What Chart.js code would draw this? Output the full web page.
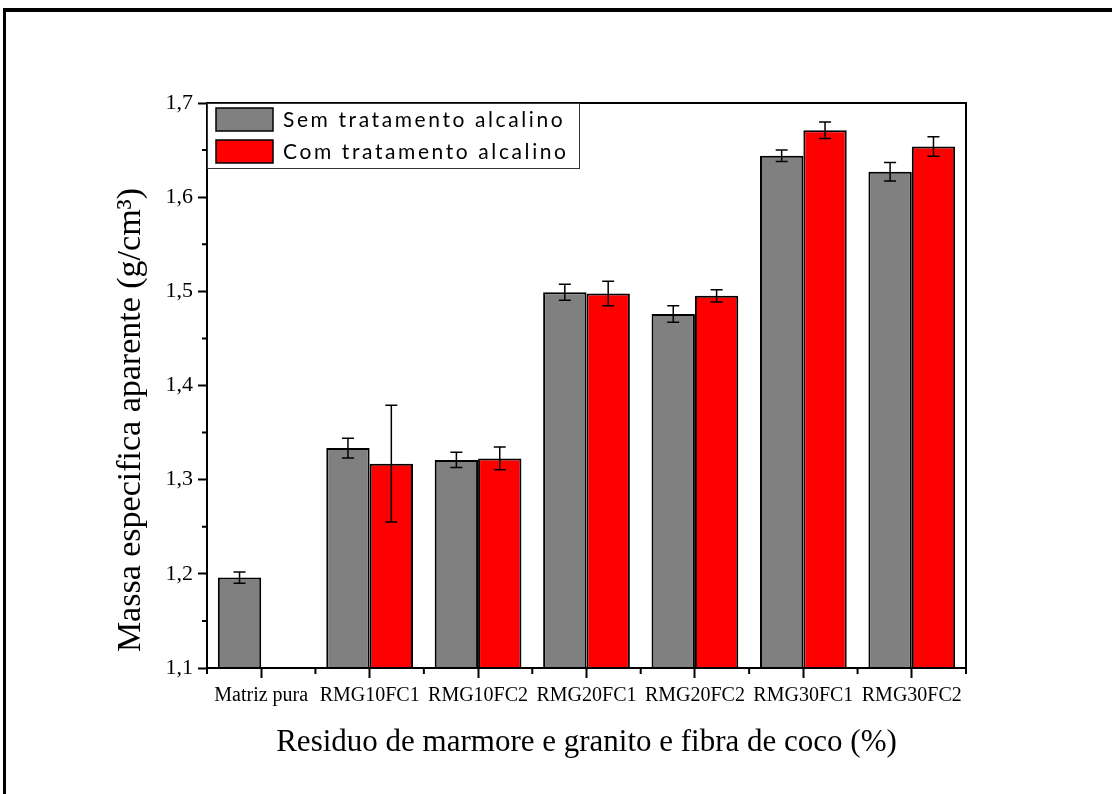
<!DOCTYPE html>
<html>
<head>
<meta charset="utf-8">
<script src="https://cdn.jsdelivr.net/npm/chart.js@4.4.0/dist/chart.umd.min.js"></script>
<style>
    html, body { margin: 0; padding: 0; background: #fff; }
    #wrap { width: 1112px; height: 794px; }
</style>
</head>
<body>
<div id="wrap"><canvas id="chart" width="1112" height="794"></canvas></div>
<script>
const categories = ['Matriz pura', 'RMG10FC1', 'RMG10FC2', 'RMG20FC1', 'RMG20FC2', 'RMG30FC1', 'RMG30FC2'];
const semValues = [1.196, 1.3335, 1.321, 1.499, 1.476, 1.644, 1.627];
const semErrors = [0.006, 0.0105, 0.008, 0.0085, 0.0087, 0.006, 0.0098];
const comValues = [null, 1.317, 1.3226, 1.4978, 1.4952, 1.6711, 1.6538];
const comErrors = [null, 0.062, 0.012, 0.013, 0.0065, 0.0087, 0.0103];
const yTickLabels = ['1,1', '1,2', '1,3', '1,4', '1,5', '1,6', '1,7'];
const yMinorTicks = [1.15, 1.25, 1.35, 1.45, 1.55, 1.65];
const yTitle = 'Massa especifica aparente (g/cm³)';

const serif = '"Liberation Serif", "Times New Roman", serif';

// error bars drawn on top of the bars
const errorBars = {
    id: 'errorBars',
    afterDatasetsDraw(chart) {
        const ctx = chart.ctx;
        const y = chart.scales.y;
        ctx.save();
        ctx.strokeStyle = '#000';
        ctx.lineWidth = 1.5;
        chart.data.datasets.forEach((ds, i) => {
            const meta = chart.getDatasetMeta(i);
            meta.data.forEach((bar, j) => {
                const v = ds.data[j];
                const e = ds.errors[j];
                if (v == null || e == null) return;
                const top = y.getPixelForValue(v + e);
                const bot = y.getPixelForValue(v - e);
                ctx.beginPath();
                ctx.moveTo(bar.x, top);
                ctx.lineTo(bar.x, bot);
                ctx.moveTo(bar.x - 6, top);
                ctx.lineTo(bar.x + 6, top);
                ctx.moveTo(bar.x - 6, bot);
                ctx.lineTo(bar.x + 6, bot);
                ctx.stroke();
            });
        });
        ctx.restore();
    }
};

// frame, axis box, minor ticks, y title and legend
const decorations = {
    id: 'decorations',
    afterDraw(chart) {
        const ctx = chart.ctx;
        const area = chart.chartArea;
        const x = chart.scales.x;
        const y = chart.scales.y;
        ctx.save();

        // outer frame (top and left)
        ctx.fillStyle = '#000';
        ctx.fillRect(3, 8, 1109, 4);
        ctx.fillRect(3, 8, 3, 786);

        // box around plot
        ctx.strokeStyle = '#000';
        ctx.lineWidth = 2;
        ctx.strokeRect(area.left, area.top, area.right - area.left, area.bottom - area.top);

        // minor ticks
        ctx.beginPath();
        yMinorTicks.forEach(v => {
            const py = y.getPixelForValue(v);
            ctx.moveTo(area.left, py);
            ctx.lineTo(area.left - 5, py);
        });
        for (let i = 0; i <= categories.length; i++) {
            const px = x.getPixelForValue(i - 0.5);
            ctx.moveTo(px, area.bottom);
            ctx.lineTo(px, area.bottom + 6);
        }
        ctx.stroke();

        // y axis title (sits a bit lower than the axis centre in the original)
        ctx.save();
        ctx.translate(131, 420);
        ctx.rotate(-Math.PI / 2);
        ctx.font = '34px ' + serif;
        ctx.textAlign = 'center';
        ctx.textBaseline = 'middle';
        ctx.fillText(yTitle, 0, 0);
        ctx.restore();

        // legend
        const lx = area.left, ly = area.top;
        ctx.fillStyle = '#fff';
        ctx.fillRect(lx, ly, 372, 65);
        ctx.lineWidth = 1;
        ctx.strokeStyle = '#333';
        ctx.strokeRect(lx + 0.5, ly + 0.5, 372, 65);
        ctx.font = '21px Lato, "Open Sans", sans-serif';
        ctx.letterSpacing = '2.6px';
        ctx.textBaseline = 'middle';
        chart.data.datasets.forEach((ds, i) => {
            const sy = ly + 5 + i * 32;
            ctx.fillStyle = ds.backgroundColor;
            ctx.fillRect(lx + 9, sy, 57, 23);
            ctx.lineWidth = 1.5;
            ctx.strokeStyle = '#000';
            ctx.strokeRect(lx + 9, sy, 57, 23);
            ctx.fillStyle = '#000';
            ctx.fillText(ds.label, lx + 76, sy + 12);
        });
        ctx.restore();
    }
};

new Chart(document.getElementById('chart'), {
    type: 'bar',
    data: {
        labels: categories,
        datasets: [
            {
                label: 'Sem tratamento alcalino',
                data: semValues,
                errors: semErrors,
                backgroundColor: '#808080',
                borderColor: '#000',
                borderWidth: 2,
                categoryPercentage: 0.8,
                barPercentage: 1.0
            },
            {
                label: 'Com tratamento alcalino',
                data: comValues,
                errors: comErrors,
                backgroundColor: '#ff0000',
                borderColor: '#000',
                borderWidth: 2,
                categoryPercentage: 0.8,
                barPercentage: 1.0
            }
        ]
    },
    options: {
        responsive: false,
        animation: false,
        devicePixelRatio: 1,
        layout: { padding: { left: 0, top: 103, right: 146, bottom: 0 } },
        plugins: {
            legend: { display: false },
            tooltip: { enabled: false }
        },
        scales: {
            x: {
                afterFit(scale) { scale.height = 126; },
                grid: {
                    offset: false,
                    drawOnChartArea: false,
                    tickLength: 10,
                    tickColor: '#000',
                    tickWidth: 2
                },
                border: { color: '#000', width: 2 },
                ticks: {
                    color: '#000',
                    padding: 6,
                    maxRotation: 0,
                    autoSkip: false,
                    font: { family: serif, size: 20 }
                },
                title: {
                    display: true,
                    text: 'Residuo de marmore e granito e fibra de coco (%)',
                    color: '#000',
                    font: { family: serif, size: 31 },
                    padding: { top: 0, bottom: 33 }
                }
            },
            y: {
                min: 1.1,
                max: 1.7,
                afterFit(scale) { scale.width = 207; },
                grid: {
                    drawOnChartArea: false,
                    tickLength: 9,
                    tickColor: '#000',
                    tickWidth: 2
                },
                border: { color: '#000', width: 2 },
                ticks: {
                    stepSize: 0.1,
                    color: '#000',
                    padding: 5,
                    font: { family: serif, size: 22 },
                    callback: (value, index) => yTickLabels[index]
                }
            }
        }
    },
    plugins: [errorBars, decorations]
});
</script>
</body>
</html>
